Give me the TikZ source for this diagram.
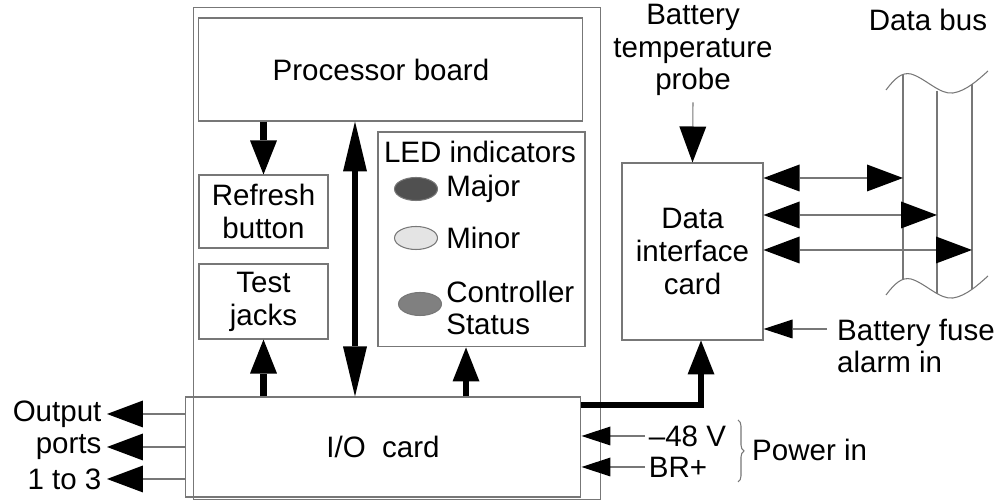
\documentclass[tikz,border=0pt]{standalone}
\usepackage{fontspec}
\setmainfont{Liberation Sans}
\usetikzlibrary{arrows.meta,positioning,calc,shapes.geometric,decorations.pathreplacing}
\definecolor{wire}{HTML}{777777}
\definecolor{ledmajor}{HTML}{505050}
\definecolor{ledminor}{HTML}{E4E4E4}
\definecolor{ledctrl}{HTML}{808080}

\begin{document}
\begin{tikzpicture}[x=0.02cm,y=-0.02cm,font=\fontsize{16.8}{18.7}\selectfont,
 box/.style={draw=wire,line width=0.6pt,inner sep=0pt,align=center},
 led/.style={ellipse,draw=wire,line width=0.6pt,minimum width=0.86cm,minimum height=0.46cm,inner sep=0pt},
 fat/.style={line width=3.5pt,-{Triangle[length=0.68cm,width=0.54cm,line width=0pt]}},
 fatboth/.style={line width=3.5pt,{Triangle[length=1cm,width=0.48cm,line width=0pt]}-{Triangle[length=1cm,width=0.48cm,line width=0pt]}},
 sig/.style={draw=wire,line width=0.6pt,-{Triangle[length=0.72cm,width=0.54cm,line width=0pt,color=black]}},
 sigsmall/.style={draw=wire,line width=0.6pt,-{Triangle[length=0.58cm,width=0.38cm,line width=0pt,color=black]}},
 sigboth/.style={draw=wire,line width=0.6pt,{Triangle[length=0.72cm,width=0.54cm,line width=0pt,color=black]}-{Triangle[length=0.72cm,width=0.54cm,line width=0pt,color=black]}}]
\useasboundingbox (0,0) rectangle (998,502);

% controller shelf
\node[box,minimum width=8.16cm,minimum height=9.86cm] (shelf) at (397,253.5) {};
\node[box,minimum width=7.7cm,minimum height=2.06cm] (proc) at (390.5,69.5) {};
\node (proctext) at (381,70) {Processor board};
\node[box,minimum width=2.58cm,minimum height=1.46cm] (refresh) at (263.5,211.5) {Refresh\\button};
\node[box,minimum width=2.58cm,minimum height=1.5cm] (jacks) at (263.5,301.5) {Test\\jacks};
\node[box,minimum width=4.14cm,minimum height=4.3cm] (leds) at (481.5,239.5) {};
\node[box,minimum width=7.92cm,minimum height=2cm] (io) at (383,447) {I/O\ \ card};

% LED panel
\node (ledtitle) at (480,152) {LED indicators};
\node[led,fill=ledmajor] (major) at (416,189) {};
\node[led,fill=ledminor] (minor) at (416,238) {};
\node[led,fill=ledctrl] (ctrl) at (420,304) {};
\node[anchor=west,inner sep=0pt] at (446,189) {Major};
\node[anchor=west,inner sep=0pt] at (446,238) {Minor};
\node[anchor=west,inner sep=0pt,align=left] at (446,308) {Controller\\Status};

% arrows inside the shelf
\coordinate (busx) at (355,0);
\coordinate (ledx) at (466,0);
\draw[fat] (proc.south -| refresh) -- (refresh.north);
\draw[fatboth] (proc.south -| busx) -- (io.north -| busx);
\draw[fat] (io.north -| jacks) -- (jacks.south);
\draw[fat] (io.north -| ledx) -- (leds.south -| ledx);

% output ports
\node[anchor=east,inner sep=3pt] (out1) at (107,414) {Output};
\node[anchor=east,inner sep=3pt] (out2) at (107,447) {ports};
\node[anchor=east,inner sep=3pt] (out3) at (107,479) {1 to 3};
\foreach \o in {out1,out2,out3}
  \draw[sig] (io.west |- \o) -- (\o.east);

% power in
\node[anchor=west,inner sep=2pt] (m48) at (645,436) {--48 V};
\node[anchor=west,inner sep=2pt] (brp) at (645,467) {BR+};
\draw[sigsmall] (m48.west) -- (m48.west -| io.east);
\draw[sigsmall] (brp.west) -- (brp.west -| io.east);
\draw[wire,line width=0.6pt,decorate,decoration={brace,amplitude=0.12cm}] (738,420) -- (738,482);
\node[anchor=west] (pwr) at (746,450) {Power in};

% data interface card
\node[box,minimum width=2.82cm,minimum height=3.54cm] (data) at (692.5,251.5) {Data\\interface\\card};
\node[align=center] (probe) at (693,50) {Battery\\temperature\\probe};
\draw[sig] (probe.south) -- (data.north);
\coordinate (link) at (701,405);
\draw[fat] (io.east |- link) -| (link |- data.south);
\node[anchor=west,align=left] (fuse) at (831,346) {Battery fuse\\alarm in};
\coordinate (fusein) at (827,329);
\draw[sigsmall] (fusein) -- (fusein -| data.east);

% data bus
\node (buslabel) at (928,20) {Data bus};
\coordinate (b1) at (903,75);
\coordinate (b2) at (937,91);
\coordinate (b3) at (972,84);
\foreach \dy in {0,205}
  \draw[wire,line width=0.6pt,shift={(0,\dy)}] (886,90) .. controls (895,78) and (902,72) .. (911,74)
    .. controls (925,78) and (940,95) .. (953,93) .. controls (966,91) and (978,80) .. (988,71);
\draw[wire,line width=0.6pt] (b1) -- ++(0,205) (b2) -- ++(0,203) (b3) -- ++(0,205);
\draw[sigboth] (data.east |- 0,178) -- (b1 |- 0,178);
\draw[sigboth] (data.east |- 0,215) -- (b2 |- 0,215);
\draw[sigboth] (data.east |- 0,250) -- (b3 |- 0,250);
\end{tikzpicture}
\end{document}
